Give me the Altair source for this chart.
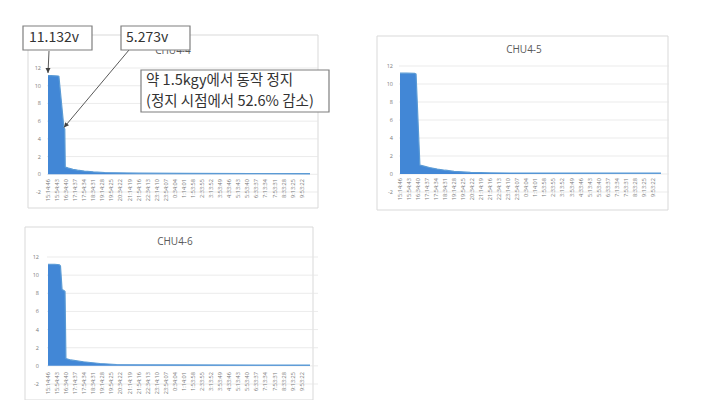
import altair as alt
import pandas as pd

# ---- category (time) labels shown on the horizontal axes ----
time_labels = ["15:14:46", "15:54:43", "16:34:40", "17:14:37", "17:54:34", "18:34:31",
               "19:14:28", "19:54:25", "20:34:22", "21:14:19", "21:54:16", "22:34:13",
               "23:14:10", "23:54:07", "0:34:04", "1:14:01", "1:53:58", "2:33:55",
               "3:13:52", "3:53:49", "4:33:46", "5:13:43", "5:53:40", "6:33:37",
               "7:13:34", "7:53:31", "8:33:28", "9:13:25", "9:53:22"]
y_ticks = [-2, 0, 2, 4, 6, 8, 10, 12]

# ---- readings: elapsed minutes since 15:14:46, voltage ----
chu44_t = [0, 15, 30, 45, 48, 70, 74, 76, 90, 110, 130, 160, 200, 250, 300, 400, 600, 900, 1155]
chu44_v = [11.132, 11.13, 11.12, 11.1, 11.05, 5.273, 5.1, 0.82, 0.7, 0.56, 0.46, 0.36, 0.27, 0.2,
           0.16, 0.12, 0.1, 0.09, 0.08]

chu45_t = [0, 30, 65, 71, 88, 110, 130, 165, 200, 239, 312, 400, 600, 900, 1155]
chu45_v = [11.2, 11.2, 11.18, 11.1, 1.0, 0.85, 0.72, 0.55, 0.42, 0.3, 0.17, 0.12, 0.1, 0.09, 0.09]

chu46_t = [0, 30, 50, 55, 62, 70, 75, 79, 100, 156, 229, 302, 400, 600, 1155]
chu46_v = [11.2, 11.2, 11.15, 11.0, 8.4, 8.3, 8.2, 0.8, 0.65, 0.45, 0.26, 0.15, 0.12, 0.1, 0.09]

annot_main = ["약 1.5kgy에서 동작 정지", "(정지 시점에서 52.6% 감소)"]

# ---------------------------------------------------------------
def to_minutes(s):
    h, m, sec = [int(p) for p in s.split(":")]
    return h * 60 + m + sec / 60.0

start = to_minutes(time_labels[0])
label_t = []
for s in time_labels:
    m = to_minutes(s) - start
    if m < 0:
        m += 24 * 60
    label_t.append(m)

xlab_df = pd.DataFrame({"t": label_t, "lab": time_labels})
ytick_df = pd.DataFrame({"g": y_ticks, "lab": [str(v) for v in y_ticks]})
one = pd.DataFrame({"a": [0]})

TICK_FONT = "Open Sans"
KR_FONT = "Noto Sans CJK KR"
AREA = "#4287d6"
GRID = "#e6e6e6"
TICK_COLOR = "#7a7a7a"


def panel(t, v, xr, yr, frame, title, title_xy, ylab_x, xlab_y):
    df = pd.DataFrame({"t": t, "v": v})
    xs = alt.Scale(domain=[0, 1155], range=xr, nice=False, zero=False)
    ys = alt.Scale(domain=[-2, 12], range=yr, nice=False, zero=False)
    fr = alt.Chart(one).mark_rect(fill="white", stroke="#d9d9d9", strokeWidth=1).encode(
        x=alt.value(frame[0]), x2=alt.value(frame[1]),
        y=alt.value(frame[2]), y2=alt.value(frame[3]))
    grid = alt.Chart(ytick_df).mark_rule(color=GRID, strokeWidth=0.8).encode(
        y=alt.Y("g:Q", scale=ys, axis=None),
        x=alt.value(xr[0] - 1), x2=alt.value(xr[1] + 8))
    ylab = alt.Chart(ytick_df).mark_text(align="right", baseline="middle", fontSize=5.5,
                                         font=TICK_FONT, color=TICK_COLOR).encode(
        y=alt.Y("g:Q", scale=ys, axis=None), x=alt.value(ylab_x), text="lab:N")
    area = alt.Chart(df).mark_area(color=AREA, opacity=1,
                                   line={"color": "#5b9bd5", "strokeWidth": 1.2}).encode(
        x=alt.X("t:Q", scale=xs, axis=None),
        y=alt.Y("v:Q", scale=ys, axis=None),
        y2=alt.datum(0))
    xlab = alt.Chart(xlab_df).mark_text(angle=270, align="right", baseline="middle", fontSize=5.6,
                                        font=TICK_FONT, color=TICK_COLOR).encode(
        x=alt.X("t:Q", scale=xs, axis=None), y=alt.value(xlab_y), text="lab:N")
    ttl = alt.Chart(one).mark_text(fontSize=10, font=TICK_FONT, color="#595959").encode(
        x=alt.value(title_xy[0]), y=alt.value(title_xy[1]), text=alt.value(title))
    return [fr, grid, ylab, area, xlab, ttl], df, xs, ys


P1_X, P1_Y = [40, 302], [184, 60]
P2_X, P2_Y = [392, 653], [184, 58]
P3_X, P3_Y = [40, 302], [376, 249]

l1, df1, xs1, ys1 = panel(chu44_t, chu44_v, P1_X, P1_Y, [20, 310, 27, 200], "CHU4-4", [165, 43], 33, 171)
l2, _, _, _ = panel(chu45_t, chu45_v, P2_X, P2_Y, [369, 660, 28, 202], "CHU4-5", [516, 42], 385, 170)
l3, _, _, _ = panel(chu46_t, chu46_v, P3_X, P3_Y, [17, 305, 219, 392], "CHU4-6", [167, 234], 31, 364)

# ---- annotations on CHU4-4 (arrow tips sit on the readings) ----
tips = pd.DataFrame({"t": [chu44_t[0], chu44_t[5]], "v": [chu44_v[0] + 0.3, chu44_v[5]]})
arrow1 = alt.Chart(tips.iloc[[0]]).mark_rule(color="#595959", strokeWidth=1).encode(
    x=alt.X("t:Q", scale=xs1, axis=None), y=alt.Y("v:Q", scale=ys1, axis=None),
    x2=alt.value(41), y2=alt.value(43))
arrow2 = alt.Chart(tips.iloc[[1]]).mark_rule(color="#595959", strokeWidth=1).encode(
    x=alt.X("t:Q", scale=xs1, axis=None), y=alt.Y("v:Q", scale=ys1, axis=None),
    x2=alt.value(121), y2=alt.value(42))
head_path = "M0,0L-0.5,1L0.5,1Z"
head1 = alt.Chart(tips.iloc[[0]]).mark_point(shape=head_path, filled=True, size=100,
                                             color="#404040", opacity=1, angle=180).encode(
    x=alt.X("t:Q", scale=xs1, axis=None), y=alt.Y("v:Q", scale=ys1, axis=None))
head2 = alt.Chart(tips.iloc[[1]]).mark_point(shape=head_path, filled=True, size=100,
                                             color="#404040", opacity=1, angle=220).encode(
    x=alt.X("t:Q", scale=xs1, axis=None), y=alt.Y("v:Q", scale=ys1, axis=None))


def box(x0, x1, y0, y1):
    return alt.Chart(one).mark_rect(fill="white", stroke="#7f7f7f", strokeWidth=1.2).encode(
        x=alt.value(x0), x2=alt.value(x1), y=alt.value(y0), y2=alt.value(y1))


def label(txt, x, y, size=14):
    return alt.Chart(one).mark_text(align="left", baseline="middle", fontSize=size,
                                    font=KR_FONT, color="#333333").encode(
        x=alt.value(x), y=alt.value(y), text=alt.value(txt))


annos = [
    arrow1, arrow2, head1, head2,
    box(15, 84, 18, 42), label(f"{chu44_v[0]:.3f}v", 21, 30),
    box(113, 182, 18, 42), label(f"{chu44_v[5]:.3f}v", 118, 30),
    box(133, 321, 62, 104), label(annot_main[0], 138, 73, 14.5), label(annot_main[1], 138, 94, 14.5),
]

chart = alt.layer(*(l1 + l2 + l3 + annos)).resolve_scale(
    x="independent", y="independent"
).properties(
    width=705, height=392, padding=0, background="white",
    autosize=alt.AutoSizeParams(type="none")
).configure_view(stroke=None)

chart.save("out.html", embed_options={"renderer": "svg", "actions": False})
